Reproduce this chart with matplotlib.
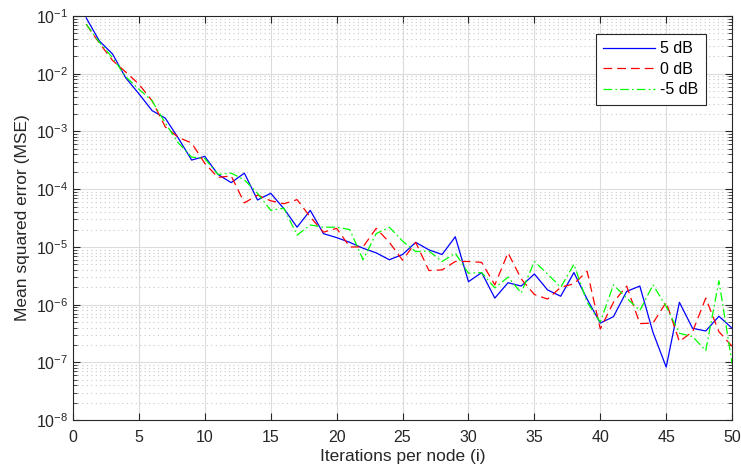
import numpy as np
import matplotlib
matplotlib.use('Agg')
import matplotlib.pyplot as plt
from matplotlib.ticker import LogLocator, MultipleLocator, NullFormatter

plt.rcParams['font.family'] = ['Liberation Sans', 'DejaVu Sans']
plt.rcParams['mathtext.default'] = 'regular'

# 반복 횟수 (i)
iterations = list(range(1, 51))

# SNR별 MSE 값
mse_5db = [9.3e-2, 3.7e-2, 2.2e-2, 8.5e-3, 4.5e-3, 2.3e-3, 1.7e-3, 7.6e-4, 3.2e-4, 3.7e-4,
           1.8e-4, 1.3e-4, 1.9e-4, 6.5e-5, 8.5e-5, 4.6e-5, 2.2e-5, 4.3e-5, 1.7e-5, 1.45e-5,
           1.2e-5, 9.5e-6, 7.9e-6, 6.0e-6, 7.4e-6, 1.2e-5, 8.9e-6, 7.4e-6, 1.5e-5, 2.5e-6,
           3.6e-6, 1.3e-6, 2.4e-6, 2.1e-6, 3.4e-6, 1.8e-6, 1.4e-6, 3.6e-6, 1.25e-6, 4.8e-7,
           6.2e-7, 1.7e-6, 2.1e-6, 3.3e-7, 8.3e-8, 1.1e-6, 3.9e-7, 3.5e-7, 6.3e-7, 3.9e-7]

mse_0db = [7.2e-2, 3.4e-2, 1.7e-2, 1.07e-2, 6.6e-3, 3.4e-3, 1.2e-3, 7.9e-4, 6.3e-4, 2.8e-4,
           1.6e-4, 1.7e-4, 5.8e-5, 7.9e-5, 6.3e-5, 5.6e-5, 6.6e-5, 3.3e-5, 1.8e-5, 2.1e-5,
           1.0e-5, 1.0e-5, 2.1e-5, 1.2e-5, 5.9e-6, 1.2e-5, 3.9e-6, 4.0e-6, 5.6e-6, 5.6e-6,
           5.4e-6, 2.2e-6, 7.9e-6, 2.8e-6, 1.5e-6, 1.25e-6, 2.0e-6, 2.3e-6, 3.8e-6, 3.8e-7,
           1.1e-6, 2.1e-6, 4.7e-7, 4.8e-7, 1.1e-6, 2.3e-7, 3.4e-7, 1.3e-6, 3.4e-7, 1.9e-7]

mse_m5db = [7.2e-2, 3.5e-2, 1.9e-2, 8.9e-3, 5.4e-3, 3.4e-3, 1.4e-3, 6.3e-4, 3.6e-4, 3.4e-4,
            1.8e-4, 1.9e-4, 1.45e-4, 8.5e-5, 4.3e-5, 4.7e-5, 1.6e-5, 2.4e-5, 2.2e-5, 2.2e-5,
            2.0e-5, 6.0e-6, 1.7e-5, 2.2e-5, 1.26e-5, 8.3e-6, 8.5e-6, 5.6e-6, 7.8e-6, 3.5e-6,
            3.6e-6, 1.95e-6, 3.0e-6, 1.6e-6, 5.6e-6, 3.4e-6, 2.0e-6, 5.0e-6, 1.1e-6, 5.0e-7,
            2.2e-6, 1.3e-6, 7.9e-7, 2.2e-6, 9.3e-7, 3.2e-7, 2.8e-7, 1.6e-7, 2.6e-6, 9.5e-8]

labels = ['5 dB', '0 dB', '-5 dB']

fig = plt.figure(figsize=(7.41, 4.71), dpi=100)
ax = fig.add_axes([0.0985, 0.108, 0.8895, 0.858])

ax.semilogy(iterations, mse_5db, color='#0000ff', linestyle='-', lw=0.9, label=labels[0])
ax.semilogy(iterations, mse_0db, color='#ff0000', linestyle=(0, (7, 4)), lw=0.9, label=labels[1])
ax.semilogy(iterations, mse_m5db, color='#00ff00', linestyle=(0, (7, 2.5, 1.3, 2.5)), lw=0.9, label=labels[2])

ax.set_xlim(0, 50)
ax.set_ylim(1e-8, 1e-1)
ax.xaxis.set_major_locator(MultipleLocator(5))
ax.yaxis.set_major_locator(LogLocator(base=10, numticks=20))
ax.yaxis.set_minor_locator(LogLocator(base=10, subs=np.arange(2, 10), numticks=20))
ax.yaxis.set_minor_formatter(NullFormatter())

# MATLAB 스타일 그리드
ax.grid(True, which='major', color='#dcdcdc', linestyle='-', lw=0.8)
ax.grid(True, which='minor', axis='y', color='#c8c8c8', linestyle=(0, (1, 3)), lw=0.8)
ax.set_axisbelow(True)

ax.tick_params(which='both', direction='in', top=True, right=True, colors='#262626', labelsize=11.5)
ax.tick_params(which='major', length=5)
ax.tick_params(which='minor', length=3)
ax.tick_params(axis='x', pad=7)
for s in ax.spines.values():
    s.set_color('#262626')
    s.set_linewidth(0.8)

ax.set_xlabel('Iterations per node (i)', fontsize=12.5, color='#262626', labelpad=3)
ax.set_ylabel('Mean squared error (MSE)', fontsize=12.5, color='#262626', labelpad=4)

leg = ax.legend(loc='upper right', bbox_to_anchor=(0.972, 0.975), fontsize=11.5, fancybox=False,
                framealpha=1, edgecolor='#262626', handlelength=3.3, borderpad=0.45,
                labelspacing=0.35, handletextpad=0.3)
leg.get_frame().set_linewidth(0.8)

fig.savefig('out.png', dpi=100)
